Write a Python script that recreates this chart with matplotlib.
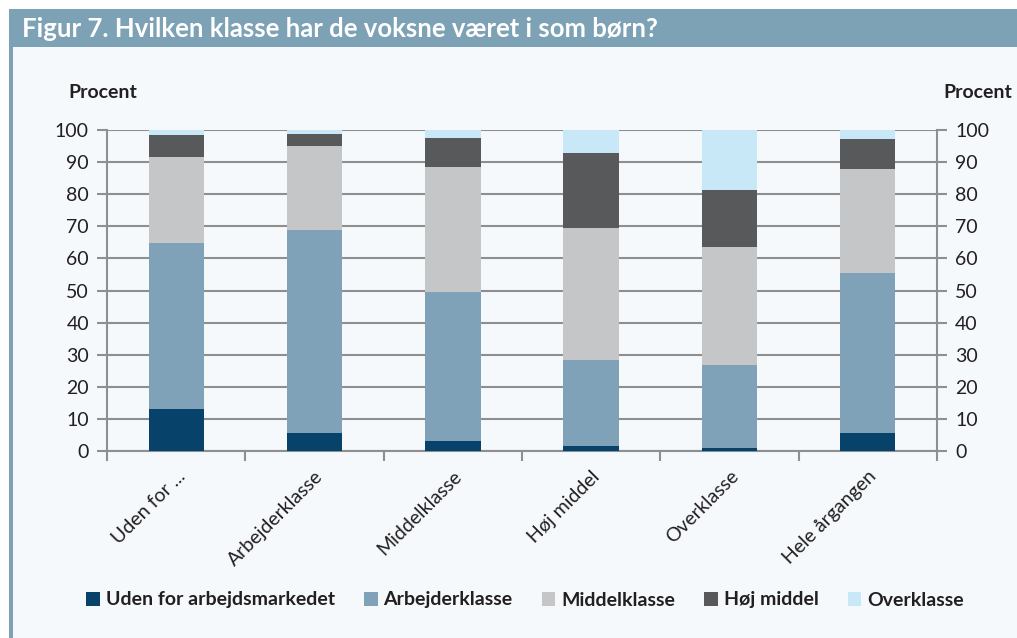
import matplotlib
matplotlib.use("Agg")
import matplotlib.pyplot as plt
from matplotlib.patches import Rectangle
import numpy as np

categories = ["Uden for ...", "Arbejderklasse", "Middelklasse", "Høj middel", "Overklasse", "Hele årgangen"]
series_names = ["Uden for arbejdsmarkedet", "Arbejderklasse", "Middelklasse", "Høj middel", "Overklasse"]
uden_for = [13.2, 5.7, 3.1, 1.5, 0.9, 5.5]
arbejder = [51.7, 63.1, 46.3, 26.8, 25.8, 50.1]
middel = [26.8, 26.2, 39.2, 41.2, 36.7, 32.4]
hoej_middel = [6.6, 3.8, 8.8, 23.3, 17.8, 9.3]
overklasse = [1.7, 1.2, 2.6, 7.2, 18.8, 2.7]
yticks = [0, 10, 20, 30, 40, 50, 60, 70, 80, 90, 100]

colors = ["#07426b", "#7fa2b8", "#c5c6c8", "#58595b", "#c8e8f8"]
banner = "#7da1b5"
bg = "#f5f9fc"
grid_col = "#8e8f91"
txt = "#231f20"

plt.rcParams['font.family'] = ['Lato', 'DejaVu Sans']

fig = plt.figure(figsize=(10.17, 6.38), dpi=100)
fig.patch.set_facecolor("white")

# panel background, left border and title banner
fig.patches.append(Rectangle((9/1017, 0), 1, 1 - 47/638, transform=fig.transFigure,
                             facecolor=bg, edgecolor="none", zorder=-2))
fig.patches.append(Rectangle((9/1017, 0), 4/1017, 1 - 9/638, transform=fig.transFigure,
                             facecolor=banner, edgecolor="none", zorder=-1))
fig.patches.append(Rectangle((9/1017, 1 - 47/638), 1, 38/638, transform=fig.transFigure,
                             facecolor=banner, edgecolor="none", zorder=-1))
fig.text(22/1017, 1 - 29/638, "Figur 7. Hvilken klasse har de voksne været i som børn?",
         color="white", fontsize=18.5, fontweight="bold", va="center", ha="left")

ax = fig.add_axes([107/1017, 1 - 451/638, 830/1017, 321/638])
ax.set_zorder(5)
ax.set_facecolor("none")
x = np.arange(len(categories))
bottom = np.zeros(len(categories))
for name, vals, c in zip(series_names, [uden_for, arbejder, middel, hoej_middel, overklasse], colors):
    ax.bar(x, vals, bottom=bottom, width=0.4, color=c, edgecolor="none", zorder=3, label=name)
    bottom += np.array(vals)

ax.set_xlim(-0.5, len(categories) - 0.5)
ax.set_ylim(0, 100)
ax.set_yticks(yticks)
ax.yaxis.grid(True, color=grid_col, linewidth=1.5, zorder=1)
ax.set_axisbelow(True)
ax.spines["top"].set_visible(False)
for s in ["left", "right", "bottom"]:
    ax.spines[s].set_color(grid_col)
    ax.spines[s].set_linewidth(1.5)
ax.tick_params(axis="y", length=7, width=1.5, color=grid_col, labelsize=14,
               labelcolor=txt, pad=6, right=True, labelright=True)
ax.set_xticks(np.arange(len(categories) + 1) - 0.5, minor=False)
ax.set_xticklabels([])
ax.set_xticks(x, minor=True)
ax.set_xticklabels(categories, minor=True, rotation=45, ha="right",
                   rotation_mode="anchor", fontsize=14, color=txt)
ax.tick_params(axis="x", which="major", length=7, width=1.5, color=grid_col)
ax.tick_params(axis="x", which="minor", length=0, pad=12)

fig.text(68/1017, 1 - 92/638, "Procent", fontsize=14, fontweight="bold", color=txt,
         ha="left", va="center")
fig.text(1012/1017, 1 - 92/638, "Procent", fontsize=14, fontweight="bold", color=txt,
         ha="right", va="center")

handles = [Rectangle((0, 0), 1, 1, facecolor=c, edgecolor="none") for c in colors]
leg = fig.legend(handles, series_names, loc="center", bbox_to_anchor=(525/1017, 1 - 600/638),
                 ncol=5, frameon=False, handlelength=0.7, handleheight=0.7,
                 handletextpad=0.3, columnspacing=1.5,
                 prop={"weight": "bold", "size": 14})
for t in leg.get_texts():
    t.set_color(txt)

fig.savefig("out.png", dpi=100, facecolor=fig.get_facecolor())
